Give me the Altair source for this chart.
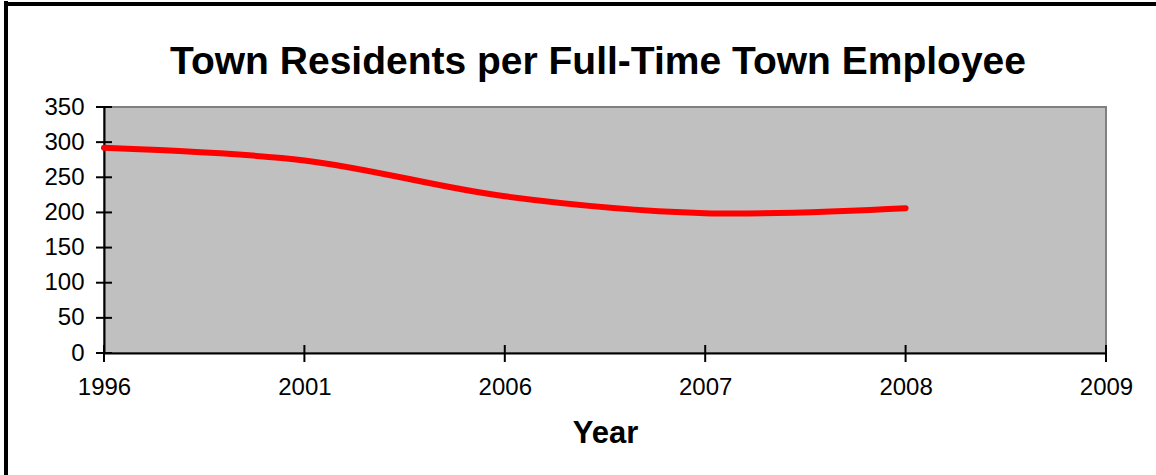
import altair as alt
import pandas as pd

# Town residents per full-time town employee, by report year
years = ["1996", "2001", "2006", "2007", "2008", "2009"]
residents_per_employee = [292, 274, 223, 199, 206, None]
y_ticks = [0, 50, 100, 150, 200, 250, 300, 350]
chart_title = "Town Residents per Full-Time Town Employee"

W, H = 1002, 246
FONT = "Liberation Sans"

df = pd.DataFrame({"Year": years, "Value": residents_per_employee})
ticks_df = pd.DataFrame({"v": y_ticks})
years_df = pd.DataFrame({"Year": years})
title_df = pd.DataFrame({"t": [chart_title]})

x_scale = alt.Scale(type="point", domain=years, padding=0)
y_scale = alt.Scale(domain=[0, 350], nice=False)

# Shared axis definitions (used by every layer so they merge cleanly)
x_axis = alt.Axis(title="Year", ticks=False, labelPadding=22,
                  labelFontSize=24, titleFontSize=31, titleFontWeight="bold",
                  titlePadding=19, domainColor="black", domainWidth=2,
                  labelColor="black", titleColor="black", grid=False,
                  labelFont=FONT, titleFont=FONT, labelAngle=0,
                  labelOverlap=False)
y_axis = alt.Axis(title=None, values=y_ticks, ticks=False, labelPadding=20,
                  labelFontSize=24, domainColor="black", domainWidth=2,
                  labelColor="black", grid=False, labelFont=FONT,
                  labelOverlap=False)

line = alt.Chart(df).mark_line(
    color="#FF0000", strokeWidth=6, interpolate="catmull-rom", strokeCap="round"
).encode(
    x=alt.X("Year:N", scale=x_scale, sort=years, axis=x_axis),
    y=alt.Y("Value:Q", scale=y_scale, axis=y_axis),
)

# Tick marks crossing the axes
y_tick_marks = alt.Chart(ticks_df).mark_rule(color="black", strokeWidth=2).encode(
    y=alt.Y("v:Q", scale=y_scale, axis=y_axis), x=alt.value(-8), x2=alt.value(8)
)
x_tick_marks = alt.Chart(years_df).mark_rule(color="black", strokeWidth=2).encode(
    x=alt.X("Year:N", scale=x_scale, sort=years, axis=x_axis),
    y=alt.value(H - 8), y2=alt.value(H + 9)
)

# Chart title
title_mark = alt.Chart(title_df).mark_text(
    font=FONT, fontSize=39, fontWeight="bold", color="black",
    align="center", baseline="middle", clip=False
).encode(text="t:N", x=alt.value(W / 2 - 7), y=alt.value(-45))

# Outer frame of the chart (left and top edges)
frame_left = alt.Chart(years_df).mark_rule(color="black", strokeWidth=4, clip=False).encode(
    x=alt.value(-98), y=alt.value(-106), y2=alt.value(H + 130)
)
frame_top = alt.Chart(years_df).mark_rule(color="black", strokeWidth=4, clip=False).encode(
    y=alt.value(-103), x=alt.value(-100), x2=alt.value(W + 60)
)

chart = alt.layer(
    line, y_tick_marks, x_tick_marks, title_mark, frame_left, frame_top
).properties(
    width=W,
    height=H,
    autosize=alt.AutoSizeParams(type="none"),
    padding={"left": 104, "top": 107, "right": 50, "bottom": 122},
    background="white",
).configure_view(
    fill="#C0C0C0", stroke="#808080", strokeWidth=2
)

chart.save("out.html", embed_options={"renderer": "svg", "actions": False})
